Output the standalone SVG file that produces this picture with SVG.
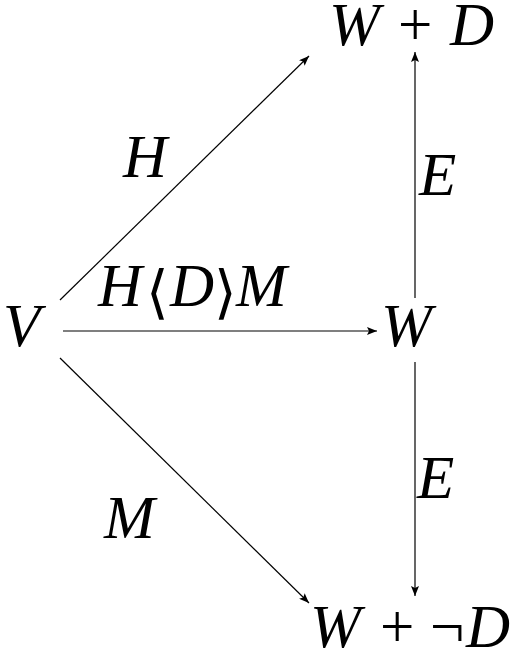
<svg xmlns="http://www.w3.org/2000/svg" width="517" height="658" viewBox="0 0 517 658">
<defs>
<marker id="ah" viewBox="0 0 10 8" refX="10" refY="4" markerWidth="10" markerHeight="8" markerUnits="userSpaceOnUse" orient="auto">
<path d="M0,0 L10,4 L0,8 L2,4 Z" fill="#000"/>
</marker>
</defs>
<style>
.m{font-family:"Liberation Serif","Times New Roman",serif;font-style:italic;font-size:61px;fill:#000}
.r{font-family:"Liberation Serif","Times New Roman",serif;font-style:normal;font-size:61px;fill:#000}
.b{font-family:"DejaVu Sans","Noto Sans",sans-serif;font-style:normal;font-weight:normal;font-size:58px;fill:#000}
.c{stroke:#000;stroke-width:1.2;fill:none;marker-end:url(#ah)}
</style>
<rect width="517" height="658" fill="#fff"/>
<g id="connectors">
<line class="c" x1="63" y1="331" x2="377" y2="331"/>
<line class="c" x1="415" y1="298" x2="415" y2="52"/>
<line class="c" x1="415" y1="362" x2="415" y2="596"/>
<line class="c" x1="60" y1="300" x2="309" y2="56"/>
<line class="c" x1="60" y1="358" x2="309" y2="603"/>
</g>
<g id="node-V"><text class="m" x="3" y="346">V</text></g>
<g id="node-W"><text class="m" x="381" y="346">W</text></g>
<g id="node-WD"><text class="m" x="329" y="45">W</text><text class="r" x="398" y="45">+</text><text class="m" x="450" y="45">D</text></g>
<g id="node-WnD"><text class="m" x="310" y="647">W</text><text class="r" x="380" y="647">+</text><text class="r" x="430" y="647">¬</text><text class="m" x="466" y="647">D</text></g>
<g id="label-H"><text class="m" x="123" y="177">H</text></g>
<g id="label-HDM"><text class="m" x="98" y="306">H</text><text class="b" x="146" y="312">⟨</text><text class="m" x="170" y="306">D</text><text class="b" x="214" y="312">⟩</text><text class="m" x="236" y="306">M</text></g>
<g id="label-E1"><text class="m" x="419" y="195">E</text></g>
<g id="label-E2"><text class="m" x="417" y="498">E</text></g>
<g id="label-M"><text class="m" x="104" y="538">M</text></g>
</svg>
